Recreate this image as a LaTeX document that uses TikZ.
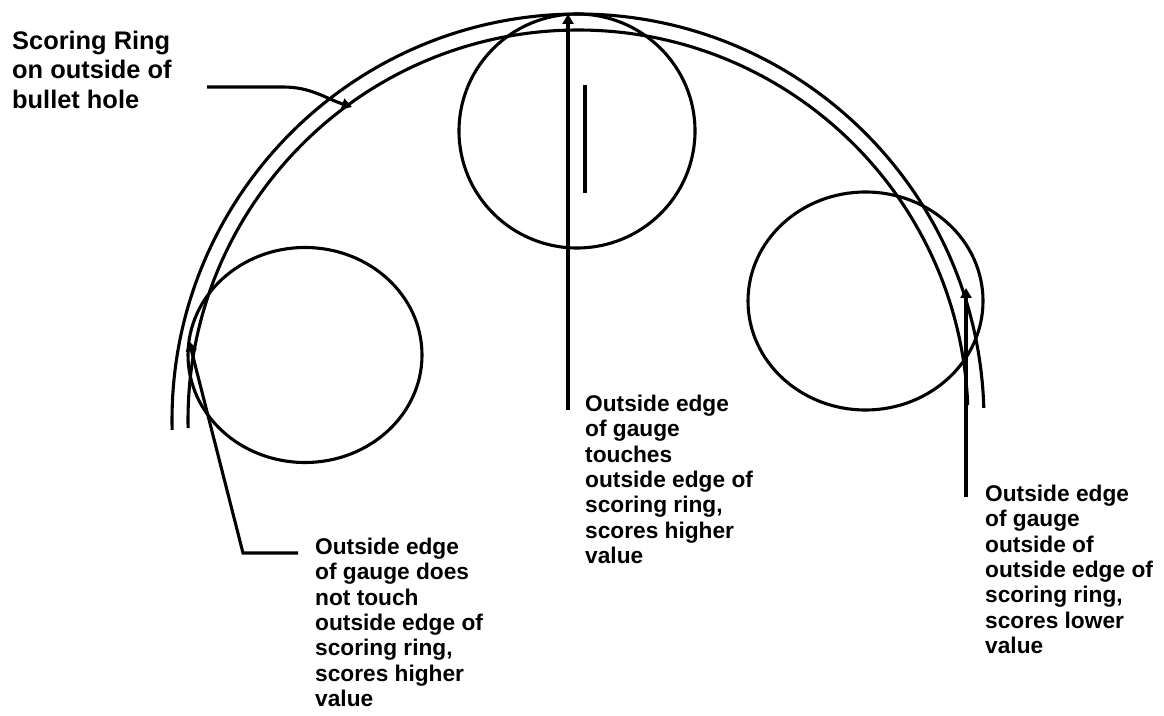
\documentclass[tikz,border=0pt]{standalone}
\usepackage{fontspec}
\setmainfont{Liberation Sans}
\usetikzlibrary{arrows.meta}
\tikzset{
  ink/.style={line width=3.1pt, black},
  tip/.style={ink, -{Triangle[length=10pt,width=11pt]}},
  lbl/.style={anchor=north west, inner sep=0pt, align=left, font=\bfseries\fontsize{22.7}{25.3}\selectfont},
  biglbl/.style={anchor=north west, inner sep=0pt, align=left, font=\bfseries\fontsize{25.4}{29.3}\selectfont}
}
\begin{document}
\begin{tikzpicture}[x=1pt,y=1pt]
\useasboundingbox (0,0) rectangle (1164,715);
% ring centre
\coordinate (rc) at (578,295);
% scoring ring (outer and inner edges)
\draw[ink] ([shift={(rc)}]181.4:406) arc[start angle=181.4, end angle=1.7, radius=406pt];
\draw[ink] ([shift={(rc)}]181.2:390) arc[start angle=181.2, end angle=2.2, radius=390pt];
% gauges
\draw[ink] (577,584) ellipse [x radius=118pt, y radius=117pt];
\draw[ink] (305,360) ellipse [x radius=117pt, y radius=107.5pt];
\draw[ink] (865.5,414) ellipse [x radius=117.5pt, y radius=109pt];
% small bar in top gauge
\coordinate (b1) at (585,630);
\coordinate (b2) at (585,522);
\draw[ink] (b1) -- (b2);
% labels
\node[biglbl] (lring) at (12,684) {Scoring Ring\\on outside of\\bullet hole};
\node[lbl] (lmid) at (585,320) {Outside edge\\of gauge\\touches\\outside edge of\\scoring ring,\\scores higher\\value};
\node[lbl] (lleft) at (315,177) {Outside edge\\of gauge does\\not touch\\outside edge of\\scoring ring,\\scores higher\\value};
\node[lbl] (lright) at (985,230) {Outside edge\\of gauge\\outside of\\outside edge of\\scoring ring,\\scores lower\\value};
% leader coordinates
\coordinate (r0) at (207,628);
\coordinate (r1) at (283,628);
\coordinate (r2) at (352,608);
\coordinate (m0) at (568,305);
\coordinate (m1) at (568,701);
\coordinate (q0) at (966,218);
\coordinate (q1) at (966,427);
\coordinate (p0) at (298,162);
\coordinate (p1) at (243,162);
\coordinate (p2) at (189,374);
% leaders
\draw[tip] (r0) -- (r1) to[out=0,in=162] (r2);
\draw[tip] (m0) -- (m1);
\draw[tip] (q0) -- (q1);
\draw[tip] (p0) -- (p1) -- (p2);
\end{tikzpicture}
\end{document}
